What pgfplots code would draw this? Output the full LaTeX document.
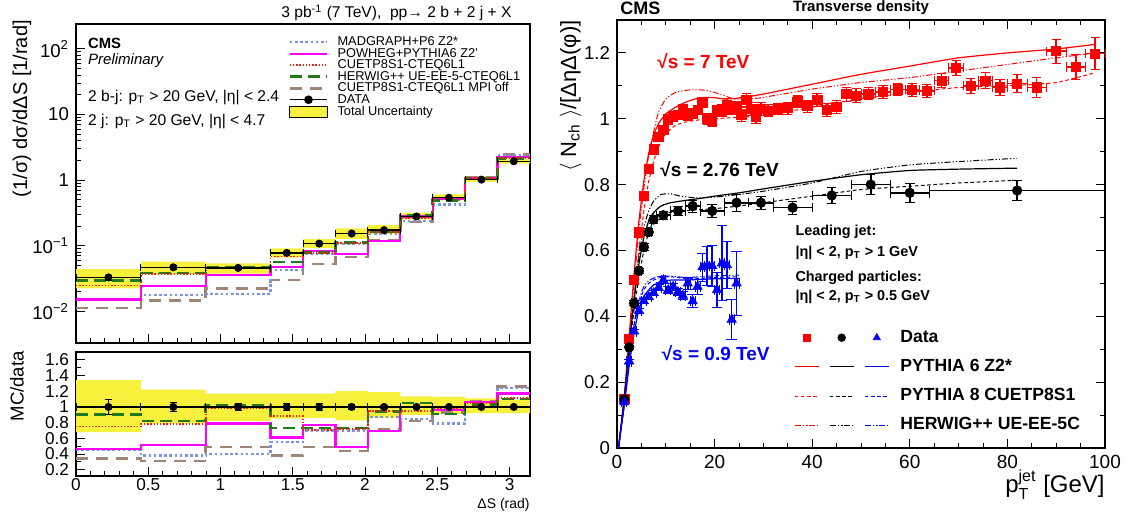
\documentclass[border=0pt]{standalone}
\usepackage{fontspec}
\setmainfont{Liberation Sans}
\usepackage{amsmath}
\usepackage{pgfplots}
\pgfplotsset{compat=1.18}

\definecolor{mgblue}{HTML}{7A96DC}
\definecolor{pwmag}{HTML}{FF00FF}
\definecolor{cured}{HTML}{FF1A00}
\definecolor{hwgreen}{HTML}{1F7A1F}
\definecolor{mpibrown}{HTML}{A08474}
\definecolor{bandy}{HTML}{F7F03C}

\pgfplotsset{
  rootframe/.style={scale only axis, anchor=south west,
    axis line style={line width=0.7pt},
    tick style={black, line width=0.5pt},
    major tick length=4.5pt, minor tick length=2.4pt,
    /pgf/number format/assume math mode=true,
    clip=false},
  mg/.style={mgblue, line width=1.1pt, dash pattern=on 1.3pt off 1.3pt},
  pw/.style={pwmag, line width=1.1pt},
  cu/.style={cured, line width=0.9pt, dash pattern=on 0.7pt off 0.9pt},
  hw/.style={hwgreen, line width=1.3pt, dash pattern=on 6pt off 3pt},
  mo/.style={mpibrown, line width=1.3pt, dash pattern=on 6pt off 4pt},
  p6/.style={line width=0.6pt},
  p8/.style={line width=0.5pt, dash pattern=on 1.8pt off 1.3pt},
  hpp/.style={line width=0.5pt, dash pattern=on 3pt off 1pt on 0.6pt off 1pt on 0.6pt off 1pt},
  dat/.style={black, only marks, mark=*, mark size=1.8pt,
    error bars/.cd, x dir=both, x explicit, y dir=both, y explicit,
    error bar style={line width=0.7pt}},
}

\begin{document}
\begin{tikzpicture}
\useasboundingbox (0,0) rectangle (564pt,256.5pt);

% ---------------- left, upper panel
\begin{axis}[rootframe,
  at={(38pt,85pt)}, width=227pt, height=159.5pt,
  xmin=0, xmax=3.1416, ymode=log, ymin=0.0033, ymax=240,
  tick pos=left,
  xtick={0,0.5,...,3}, minor x tick num=4, xticklabels={},
  ytick={0.01,0.1,1,10,100},
  yticklabels={10\textsuperscript{−2},10\textsuperscript{−1},1,10,10\textsuperscript{2}},
  tick label style={font=\fontsize{9.3}{10}\selectfont},
  ylabel={(1/σ) dσ/dΔS [1/rad]},
  ylabel style={at={(axis description cs:-0.119,1.013)}, anchor=east, inner sep=0,
    font=\fontsize{10}{12}\selectfont},
  legend image code/.code={\draw[mark repeat=2,mark phase=2,#1] plot coordinates {(0cm,0cm) (0.33cm,0cm) (0.66cm,0cm)};},
  legend style={draw=none, fill=none, at={(0.467,0.962)}, anchor=north west, inner sep=0pt,
    font=\fontsize{6.4}{7}\selectfont, row sep=0pt,
    nodes={inner xsep=1pt, inner ysep=0pt, text height=4.6pt, text depth=1.15pt},
    /tikz/every odd column/.append style={column sep=3.5pt}},
  legend cell align=left,
]
% total uncertainty band
\addplot[fill=bandy, draw=none, forget plot] coordinates {
 (0,0.04422)(0.4488,0.04422)(0.4488,0.05734)(0.8976,0.05734)(0.8976,0.05382)(1.3464,0.05382)
 (1.3464,0.09126)(1.5708,0.09126)(1.5708,0.1264)(1.7952,0.1264)(1.7952,0.1848)(2.0196,0.1848)
 (2.0196,0.2059)(2.2440,0.2059)(2.2440,0.3178)(2.4684,0.3178)(2.4684,0.6102)(2.6928,0.6102)
 (2.6928,1.132)(2.9172,1.132)(2.9172,2.115)(3.1416,2.115)
 (3.1416,1.785)(2.9172,1.785)(2.9172,0.9384)(2.6928,0.9384)(2.6928,0.4914)(2.4684,0.4914)
 (2.4684,0.252)(2.2440,0.252)(2.2440,0.1488)(2.0196,0.1488)(2.0196,0.1278)(1.7952,0.1278)
 (1.7952,0.09288)(1.5708,0.09288)(1.5708,0.0663)(1.3464,0.0663)(1.3464,0.03772)(0.8976,0.03772)
 (0.8976,0.03713)(0.4488,0.03713)(0.4488,0.02244)(0,0.02244)} -- cycle;
% MC histograms
\addplot[mo, const plot, forget plot] coordinates {(0,0.01122)(0.4488,0.01457)(0.8976,0.02254)(1.3464,0.03003)(1.5708,0.05292)(1.7952,0.06776)(2.0196,0.1228)(2.2440,0.2296)(2.4684,0.5022)(2.6928,1.091)(2.9172,2.444)(3.1416,2.444)};
\addplot[mg, const plot, forget plot] coordinates {(0,0.01485)(0.4488,0.01786)(0.8976,0.0184)(1.3464,0.0429)(1.5708,0.0756)(1.7952,0.1078)(2.0196,0.1505)(2.2440,0.238)(2.4684,0.4266)(2.6928,1.081)(2.9172,2.406)(3.1416,2.406)};
\addplot[pw, const plot, forget plot] coordinates {(0,0.0152)(0.4488,0.0244)(0.8976,0.0363)(1.3464,0.0476)(1.5708,0.0832)(1.7952,0.0755)(2.0196,0.1194)(2.2440,0.28)(2.4684,0.518)(2.6928,1.081)(2.9172,2.27)(3.1416,2.27)};
\addplot[hw, const plot, forget plot] coordinates {(0,0.0297)(0.4488,0.03854)(0.8976,0.04692)(1.3464,0.05694)(1.5708,0.07884)(1.7952,0.1124)(2.0196,0.1626)(2.2440,0.294)(2.4684,0.4914)(2.6928,1.051)(2.9172,2.134)(3.1416,2.134)};
\addplot[cu, const plot, forget plot] coordinates {(0,0.02475)(0.4488,0.03666)(0.8976,0.04531)(1.3464,0.06864)(1.5708,0.07668)(1.7952,0.1109)(2.0196,0.1644)(2.2440,0.266)(2.4684,0.529)(2.6928,1.071)(2.9172,2.153)(3.1416,2.153)};
% data
\addplot[forget plot, dat] coordinates {
 (0.2244,0.033) +- (0.2244,0.003)
 (0.6732,0.047) +- (0.2244,0.0028)
 (1.1220,0.046) +- (0.2244,0.0018)
 (1.4586,0.078) +- (0.1122,0.004)
 (1.6830,0.108) +- (0.1122,0.0043)
 (1.9074,0.154) +- (0.1122,0.0046)
 (2.1318,0.173) +- (0.1122,0.0026)
 (2.3562,0.28)  +- (0.1122,0.0034)
 (2.5806,0.54)  +- (0.1122,0.0054)
 (2.8050,1.02)  +- (0.1122,0.008)
 (3.0294,1.94)  +- (0.1122,0.016)};
% legend
\addlegendimage{mg}\addlegendentry{MADGRAPH+P6 Z2*}
\addlegendimage{pw}\addlegendentry{POWHEG+PYTHIA6 Z2'}
\addlegendimage{cu}\addlegendentry{CUETP8S1-CTEQ6L1}
\addlegendimage{hw}\addlegendentry{HERWIG++ UE-EE-5-CTEQ6L1}
\addlegendimage{mo}\addlegendentry{CUETP8S1-CTEQ6L1 MPI off}
\addlegendimage{black, line width=0.7pt, mark=*, mark size=1.8pt}\addlegendentry{DATA}
\addlegendimage{legend image code/.code={\draw[fill=bandy, draw=black, line width=0.6pt] (0cm,-0.1cm) rectangle (0.66cm,0.1cm);}}\addlegendentry{Total Uncertainty}
% texts
\node[anchor=west, inner sep=0, font=\bfseries\fontsize{7.4}{9}\selectfont] at (axis description cs:0.026,0.94) {CMS};
\node[anchor=west, inner sep=0, font=\itshape\fontsize{7.5}{9}\selectfont] at (axis description cs:0.026,0.885) {Preliminary};
\node[anchor=west, inner sep=0, font=\fontsize{7.8}{9}\selectfont] at (axis description cs:0.026,0.771) {2 b-j: p\textsubscript{T} > 20 GeV, |η| < 2.4};
\node[anchor=west, inner sep=0, font=\fontsize{7.8}{9}\selectfont] at (axis description cs:0.026,0.693) {2 j: p\textsubscript{T} > 20 GeV, |η| < 4.7};
\node[anchor=east, inner sep=0, font=\fontsize{7.8}{9}\selectfont] at (axis description cs:0.96,1.035) {3 pb\textsuperscript{-1} (7 TeV),\ \ pp→ 2 b + 2 j + X};
\end{axis}

% ---------------- left, ratio panel
\begin{axis}[rootframe,
  at={(38pt,18.5pt)}, width=227pt, height=62pt,
  xmin=0, xmax=3.1416, ymin=0.12, ymax=1.7,
  tick pos=left,
  xtick={0,0.5,...,3}, minor x tick num=4,
  ytick={0.2,0.4,0.6,0.8,1,1.2,1.4,1.6}, minor y tick num=1,
  tick label style={font=\fontsize{8.6}{10}\selectfont},
  xticklabel style={inner sep=1.2pt},
  xlabel={ΔS (rad)},
  xlabel style={at={(axis description cs:1,-0.175)}, anchor=north east, inner sep=0,
    font=\fontsize{7}{8}\selectfont},
  ylabel={MC/data},
  ylabel style={at={(axis description cs:-0.13,1.01)}, anchor=east, inner sep=0,
    font=\fontsize{9.3}{11}\selectfont},
]
\addplot[fill=bandy, draw=none, forget plot] coordinates {
 (0,1.34)(0.4488,1.34)(0.4488,1.22)(0.8976,1.22)(0.8976,1.17)(1.7952,1.17)(1.7952,1.20)(2.0196,1.20)
 (2.0196,1.19)(2.2440,1.19)(2.2440,1.135)(2.4684,1.135)(2.4684,1.13)(2.6928,1.13)(2.6928,1.11)
 (2.9172,1.11)(2.9172,1.09)(3.1416,1.09)
 (3.1416,0.92)(2.6928,0.92)(2.6928,0.91)(2.4684,0.91)(2.4684,0.90)(2.2440,0.90)(2.2440,0.86)
 (2.0196,0.86)(2.0196,0.83)(1.7952,0.83)(1.7952,0.86)(1.5708,0.86)(1.5708,0.85)(1.3464,0.85)
 (1.3464,0.82)(0.8976,0.82)(0.8976,0.79)(0.4488,0.79)(0.4488,0.68)(0,0.68)} -- cycle;
\addplot[mo, const plot] coordinates {(0,0.34)(0.4488,0.31)(0.8976,0.49)(1.3464,0.385)(1.5708,0.49)(1.7952,0.44)(2.0196,0.71)(2.2440,0.82)(2.4684,0.93)(2.6928,1.07)(2.9172,1.26)(3.1416,1.26)};
\addplot[mg, const plot] coordinates {(0,0.45)(0.4488,0.38)(0.8976,0.40)(1.3464,0.55)(1.5708,0.70)(1.7952,0.70)(2.0196,0.87)(2.2440,0.85)(2.4684,0.79)(2.6928,1.06)(2.9172,1.24)(3.1416,1.24)};
\addplot[pw, const plot] coordinates {(0,0.46)(0.4488,0.52)(0.8976,0.79)(1.3464,0.61)(1.5708,0.77)(1.7952,0.49)(2.0196,0.69)(2.2440,1.0)(2.4684,0.96)(2.6928,1.06)(2.9172,1.17)(3.1416,1.17)};
\addplot[hw, const plot] coordinates {(0,0.90)(0.4488,0.82)(0.8976,1.02)(1.3464,0.73)(1.5708,0.73)(1.7952,0.73)(2.0196,0.94)(2.2440,1.05)(2.4684,0.91)(2.6928,1.03)(2.9172,1.10)(3.1416,1.10)};
\addplot[cu, const plot] coordinates {(0,0.75)(0.4488,0.78)(0.8976,0.985)(1.3464,0.88)(1.5708,0.71)(1.7952,0.72)(2.0196,0.95)(2.2440,0.95)(2.4684,0.98)(2.6928,1.05)(2.9172,1.11)(3.1416,1.11)};
\addplot[black, line width=0.7pt] coordinates {(0,1) (3.1416,1)};
\addplot[dat] coordinates {
 (0.2244,1) +- (0.2244,0.09)
 (0.6732,1) +- (0.2244,0.06)
 (1.1220,1) +- (0.2244,0.04)
 (1.4586,1) +- (0.1122,0.05)
 (1.6830,1) +- (0.1122,0.04)
 (1.9074,1) +- (0.1122,0.03)
 (2.1318,1) +- (0.1122,0.015)
 (2.3562,1) +- (0.1122,0.012)
 (2.5806,1) +- (0.1122,0.01)
 (2.8050,1) +- (0.1122,0.008)
 (3.0294,1) +- (0.1122,0.008)};
\end{axis}

% ---------------- right panel
\begin{axis}[rootframe,
  at={(308.5pt,32.5pt)}, width=244pt, height=214pt,
  xmin=0, xmax=100, ymin=0, ymax=1.3,
  tick pos=both,
  xtick={0,20,40,60,80,100}, minor x tick num=3,
  ytick={0,0.2,0.4,0.6,0.8,1,1.2}, minor y tick num=1,
  xticklabel style={font=\fontsize{9.5}{11}\selectfont},
  yticklabel style={font=\fontsize{9.3}{11}\selectfont},
  xlabel={p$_{\text{T}}^{\text{jet}}$ [GeV]},
  xlabel style={at={(axis description cs:1,-0.05)}, anchor=north east, inner sep=0,
    font=\fontsize{12}{14}\selectfont},
  ylabel={$\langle$ N\textsubscript{ch} $\rangle$/[ΔηΔ(φ)]},
  ylabel style={at={(axis description cs:-0.095,1)}, anchor=east, inner sep=0,
    font=\fontsize{11}{13}\selectfont},
  legend image code/.code={\draw[mark repeat=2,mark phase=2,#1] plot coordinates {(0cm,0cm) (0.21cm,0cm) (0.42cm,0cm)};},
  legend columns=3,
  legend style={draw=none, fill=none, at={(0.362,0.29)}, anchor=north west, inner sep=0pt,
    font=\bfseries\fontsize{8.8}{10}\selectfont, row sep=1.2pt,
    nodes={inner xsep=2.5pt, inner ysep=2.5pt, text height=6.5pt, text depth=1.9pt}},
  legend cell align=left,
]
% 7 TeV curves
\addplot[red, p6, smooth, tension=0.3, forget plot] coordinates {(0.3,0)(1.5,0.16)(2.5,0.34)(3.5,0.53)(4.5,0.69)(5.5,0.81)(6.5,0.895)(7.5,0.95)(8.5,0.985)(10,1.015)(12,1.035)(14,1.05)(16,1.06)(18,1.065)(20,1.064)(22,1.06)(25,1.063)(30,1.075)(40,1.105)(50,1.135)(60,1.16)(70,1.185)(80,1.2)(90,1.212)(98,1.226)};
\addplot[red, p8, smooth, tension=0.3, forget plot] coordinates {(0.3,0)(1.5,0.13)(2.5,0.29)(3.5,0.45)(4.5,0.6)(5.5,0.72)(6.5,0.81)(7.5,0.87)(8.5,0.915)(10,0.955)(12,0.98)(14,0.99)(17,0.997)(20,1.0)(25,1.005)(30,1.01)(40,1.035)(50,1.06)(60,1.08)(70,1.095)(80,1.1)(90,1.11)(98,1.14)};
\addplot[red, hpp, smooth, tension=0.3, forget plot] coordinates {(0.3,0)(1.5,0.15)(2.5,0.32)(3.5,0.5)(4.5,0.66)(5.5,0.79)(6.5,0.89)(7.5,0.96)(8.5,1.02)(10,1.06)(12,1.08)(15,1.088)(18,1.087)(20,1.08)(22,1.07)(24,1.06)(27,1.06)(30,1.065)(40,1.09)(50,1.11)(60,1.125)(70,1.145)(80,1.165)(90,1.185)(98,1.2)};
% 2.76 TeV curves
\addplot[black, p6, smooth, tension=0.3, forget plot] coordinates {(0.3,0)(1.5,0.15)(2.5,0.31)(3.5,0.45)(4.5,0.56)(5.5,0.64)(6.5,0.69)(7.5,0.715)(9,0.735)(11,0.745)(14,0.752)(17,0.758)(20,0.765)(25,0.775)(30,0.787)(40,0.81)(50,0.83)(60,0.843)(70,0.847)(82,0.85)};
\addplot[black, p8, smooth, tension=0.3, forget plot] coordinates {(0.3,0)(1.5,0.14)(2.5,0.29)(3.5,0.42)(4.5,0.52)(5.5,0.6)(6.5,0.655)(7.5,0.69)(9,0.71)(12,0.718)(15,0.722)(20,0.727)(25,0.735)(30,0.745)(40,0.765)(50,0.785)(60,0.795)(70,0.805)(82,0.813)};
\addplot[black, hpp, smooth, tension=0.3, forget plot] coordinates {(0.3,0)(1.5,0.15)(2.5,0.31)(3.5,0.46)(4.5,0.58)(5.5,0.67)(6.5,0.72)(7.5,0.75)(9,0.77)(11,0.772)(13,0.765)(16,0.76)(20,0.762)(25,0.77)(30,0.78)(40,0.805)(50,0.84)(60,0.86)(70,0.87)(82,0.88)};
% 0.9 TeV curves
\addplot[blue, p6, smooth, tension=0.3, forget plot] coordinates {(0.3,0)(1.5,0.13)(2.5,0.25)(3.5,0.35)(4.5,0.42)(5.5,0.46)(6.5,0.48)(7.5,0.495)(9,0.505)(11,0.51)(14,0.51)(17,0.512)(20,0.514)(25,0.515)};
\addplot[blue, p8, smooth, tension=0.3, forget plot] coordinates {(0.3,0)(1.5,0.14)(2.5,0.27)(3.5,0.37)(4.5,0.44)(5.5,0.48)(6.5,0.5)(7.5,0.51)(9,0.518)(11,0.52)(14,0.515)(17,0.515)(20,0.518)(25,0.52)};
\addplot[blue, hpp, smooth, tension=0.3, forget plot] coordinates {(0.3,0)(1.5,0.14)(2.5,0.28)(3.5,0.38)(4.5,0.45)(5.5,0.49)(6.5,0.508)(7.5,0.516)(9,0.522)(11,0.522)(14,0.518)(17,0.52)(20,0.523)(25,0.525)};
% 7 TeV data
\addplot[red, only marks, mark=square*, mark size=2.3pt, forget plot,
  error bars/.cd, x dir=both, x explicit, y dir=both, y explicit,
  error bar style={line width=0.8pt}] coordinates {
 (1.5,0.148) +- (0.5,0.005) (2.5,0.332) +- (0.5,0.006) (3.5,0.51) +- (0.5,0.008)
 (4.5,0.655) +- (0.5,0.009) (5.5,0.766) +- (0.5,0.01) (6.5,0.848) +- (0.5,0.01)
 (7.5,0.907) +- (0.5,0.011) (8.5,0.944) +- (0.5,0.011) (9.5,0.965) +- (0.5,0.012)
 (10.5,0.998) +- (0.5,0.012) (11.5,1.007) +- (0.5,0.013) (12.5,1.012) +- (0.5,0.013)
 (13.5,1.03) +- (0.5,0.014) (14.5,1.01) +- (0.5,0.014) (15.5,1.015) +- (0.5,0.015)
 (16.5,1.027) +- (0.5,0.015) (17.5,1.05) +- (0.5,0.016) (18.5,1.0) +- (0.5,0.016)
 (19.5,0.995) +- (0.5,0.017) (20.5,1.025) +- (0.5,0.017) (21.5,1.025) +- (0.5,0.018)
 (22.5,1.043) +- (0.5,0.018) (23.5,1.03) +- (0.5,0.018) (24.5,1.035) +- (0.5,0.019)
 (25.5,1.013) +- (0.5,0.02) (26.5,1.058) +- (0.5,0.02) (27.5,1.03) +- (0.5,0.02)
 (28.5,1.005) +- (0.5,0.02) (29.5,1.03) +- (0.5,0.02)
 (31,1.025) +- (1,0.018) (33,1.03) +- (1,0.018) (35,1.032) +- (1,0.018)
 (37,1.053) +- (1,0.019) (39,1.038) +- (1,0.019) (41,1.057) +- (1,0.02)
 (43,1.027) +- (1,0.02) (45,1.036) +- (1,0.02) (47,1.075) +- (1,0.021)
 (49,1.07) +- (1,0.021)
 (51.5,1.076) +- (1.5,0.018) (54.5,1.082) +- (1.5,0.019) (57.5,1.089) +- (1.5,0.019)
 (60.5,1.088) +- (1.5,0.02) (63.5,1.085) +- (1.5,0.02) (66.5,1.116) +- (1.5,0.021)
 (69.5,1.155) +- (1.5,0.022) (72.5,1.1) +- (1.5,0.023) (75.5,1.116) +- (1.5,0.024)
 (78.5,1.095) +- (1.5,0.025)
 (82,1.107) +- (2,0.027) (86,1.095) +- (2,0.03) (90,1.205) +- (2,0.037)
 (94,1.157) +- (2,0.038) (98,1.198) +- (2,0.048)};
% 2.76 TeV data
\addplot[black, only marks, mark=*, mark size=2.35pt, forget plot,
  error bars/.cd, x dir=both, x explicit, y dir=both, y explicit,
  error bar style={line width=0.8pt}] coordinates {
 (1.5,0.148) +- (0.5,0.005) (2.5,0.306) +- (0.5,0.007) (3.5,0.44) +- (0.5,0.008)
 (4.5,0.538) +- (0.5,0.009) (5.5,0.61) +- (0.5,0.01) (6.5,0.656) +- (0.5,0.01)
 (7.5,0.694) +- (0.5,0.011) (9.5,0.707) +- (1.5,0.013) (12.5,0.72) +- (1.5,0.015)
 (15.5,0.735) +- (1.5,0.018) (19.5,0.72) +- (2.5,0.02) (24.5,0.745) +- (2.5,0.025)
 (29.5,0.745) +- (2.5,0.02) (36,0.73) +- (4,0.02) (44,0.767) +- (4,0.025)
 (52,0.8) +- (4,0.03) (60,0.775) +- (4,0.03) (82,0.782) +- (18,0.03)};
% 0.9 TeV data
\addplot[blue, only marks, mark=triangle*, mark size=2.6pt, forget plot,
  error bars/.cd, x dir=both, x explicit, y dir=both, y explicit,
  error bar style={line width=0.8pt}] coordinates {
 (1.5,0.139) +- (0.5,0.005) (2.5,0.263) +- (0.5,0.005) (3.5,0.354) +- (0.5,0.007)
 (4.5,0.417) +- (0.5,0.008) (5.5,0.446) +- (0.5,0.008) (6.5,0.459) +- (0.5,0.008)
 (7.5,0.471) +- (0.5,0.008) (8.5,0.487) +- (0.5,0.009) (9.5,0.51) +- (0.5,0.01)
 (10.5,0.48) +- (0.5,0.01) (11.5,0.49) +- (0.5,0.011) (12.5,0.474) +- (0.5,0.012)
 (13.5,0.463) +- (0.5,0.012) (14.5,0.50) +- (0.5,0.017) (15.5,0.446) +- (0.5,0.02)
 (16.5,0.49) +- (0.5,0.023) (17.5,0.549) +- (0.5,0.043) (18.5,0.553) +- (0.5,0.058)
 (19.5,0.553) +- (0.5,0.062) (20.5,0.48) +- (0.5,0.053) (21.5,0.561) +- (0.5,0.114)
 (22.5,0.556) +- (0.5,0.07) (23.5,0.39) +- (0.5,0.06) (24.5,0.50) +- (0.5,0.096)};
% legend
\addlegendimage{only marks, mark=square*, red, mark size=1.8pt}\addlegendentry{}
\addlegendimage{only marks, mark=*, black, mark size=1.9pt}\addlegendentry{}
\addlegendimage{only marks, mark=triangle*, blue, mark size=2pt}\addlegendentry{\hspace{3pt}Data}
\addlegendimage{red, p6}\addlegendentry{}
\addlegendimage{black, p6}\addlegendentry{}
\addlegendimage{blue, p6}\addlegendentry{\hspace{3pt}PYTHIA 6 Z2*}
\addlegendimage{red, p8}\addlegendentry{}
\addlegendimage{black, p8}\addlegendentry{}
\addlegendimage{blue, p8}\addlegendentry{\hspace{3pt}PYTHIA 8 CUETP8S1}
\addlegendimage{red, hpp}\addlegendentry{}
\addlegendimage{black, hpp}\addlegendentry{}
\addlegendimage{blue, hpp}\addlegendentry{\hspace{3pt}HERWIG++ UE-EE-5C}
% texts
\node[anchor=west, inner sep=0, text=red, font=\bfseries\fontsize{9.5}{11}\selectfont] at (axis cs:8.2,1.175) {√s = 7 TeV};
\node[anchor=west, inner sep=0, text=black, font=\bfseries\fontsize{9.5}{11}\selectfont] at (axis cs:8.8,0.848) {√s = 2.76 TeV};
\node[anchor=west, inner sep=0, text=blue, font=\bfseries\fontsize{9.5}{11}\selectfont] at (axis cs:9.1,0.289) {√s = 0.9 TeV};
\node[anchor=west, inner sep=0, font=\bfseries\fontsize{7.2}{9}\selectfont] at (axis cs:36.5,0.657) {Leading jet:};
\node[anchor=west, inner sep=0, font=\bfseries\fontsize{7.2}{9}\selectfont] at (axis cs:36.5,0.593) {|η| < 2, p\textsubscript{T} > 1 GeV};
\node[anchor=west, inner sep=0, font=\bfseries\fontsize{7.2}{9}\selectfont] at (axis cs:36.5,0.517) {Charged particles:};
\node[anchor=west, inner sep=0, font=\bfseries\fontsize{7.2}{9}\selectfont] at (axis cs:36.5,0.459) {|η| < 2, p\textsubscript{T} > 0.5 GeV};
\node[anchor=west, inner sep=0, font=\bfseries\fontsize{9}{11}\selectfont] at (axis description cs:0.006,1.028) {CMS};
\node[inner sep=0, font=\bfseries\fontsize{7.5}{9}\selectfont] at (axis description cs:0.5,1.028) {Transverse density};
\end{axis}
\end{tikzpicture}
\end{document}
